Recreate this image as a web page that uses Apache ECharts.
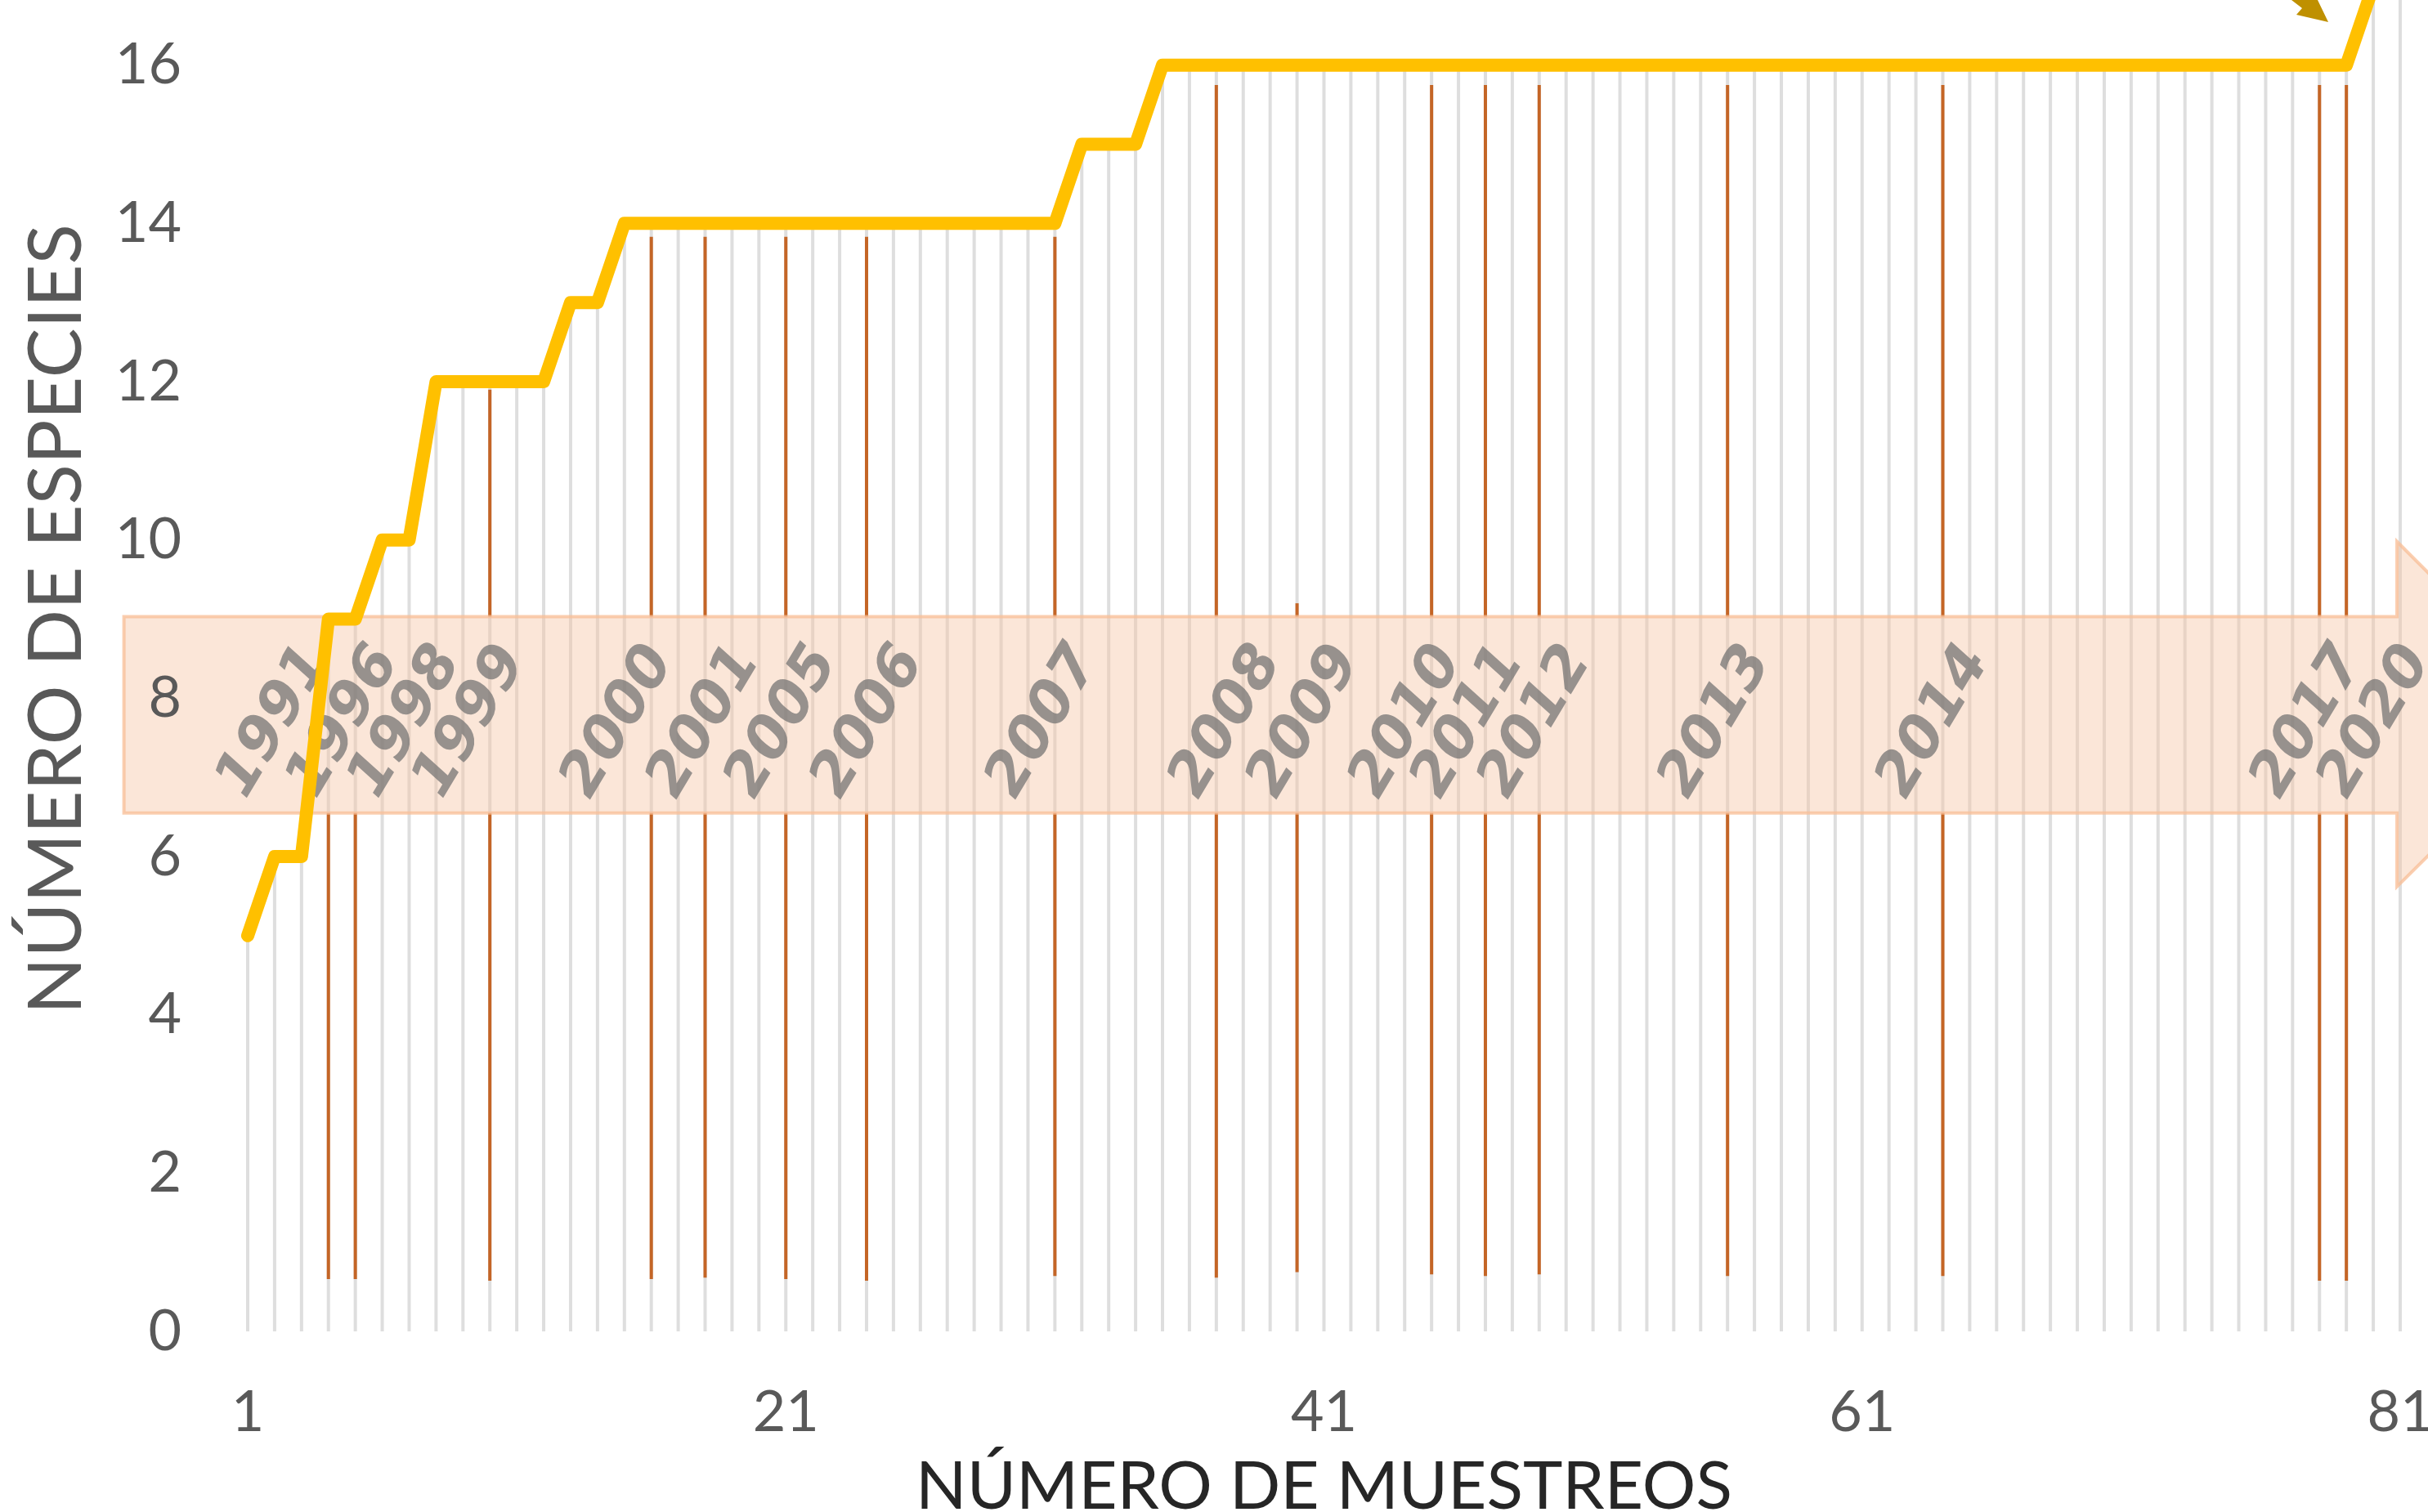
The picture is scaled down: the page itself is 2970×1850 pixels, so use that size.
<!DOCTYPE html>
<html>
<head>
<meta charset="utf-8">
<script src="https://cdn.jsdelivr.net/npm/echarts@6/dist/echarts.min.js"></script>
<style>
html, body { margin: 0; padding: 0; background: #fff; }
#chart { width: 2970px; height: 1850px; }
</style>
</head>
<body>
<div id="chart"></div>
<script>
// muestreos 1..81
var samples = [];
for (var i = 1; i <= 81; i++) {
    samples.push(String(i));
}

// numero acumulado de especies por muestreo
var species = [
    5, 6, 6, 9, 9, 10, 10, 12, 12, 12,
    12, 12, 13, 13, 14, 14, 14, 14, 14, 14,
    14, 14, 14, 14, 14, 14, 14, 14, 14, 14,
    14, 15, 15, 15, 16, 16, 16, 16, 16, 16,
    16, 16, 16, 16, 16, 16, 16, 16, 16, 16,
    16, 16, 16, 16, 16, 16, 16, 16, 16, 16,
    16, 16, 16, 16, 16, 16, 16, 16, 16, 16,
    16, 16, 16, 16, 16, 16, 16, 16, 16, 17,
    17
];

// lineas naranjas (cambio de año)
var eventSamples = [4, 5, 10, 16, 18, 21, 24, 31, 37, 40, 45, 47, 49, 56, 64, 78, 79];
var eventLow = [0.66, 0.66, 0.64, 0.66, 0.68, 0.66, 0.64, 0.70, 0.68, 0.75, 0.72, 0.70, 0.72, 0.70, 0.70, 0.64, 0.64];
var eventHigh = [8.85, 8.85, 11.9, 13.83, 13.83, 13.83, 13.83, 13.83, 15.75, 9.2, 15.75, 15.75, 15.75, 15.75, 15.75, 15.75, 15.75];

// etiquetas de año sobre la flecha
var years = ['1991', '1996', '1998', '1999', '2000', '2001', '2005', '2006', '2007', '2008', '2009', '2010', '2011', '2012', '2013', '2014', '2017', '2020'];
var yearAt = [2.0, 4.6, 6.9, 9.3, 14.8, 18.0, 20.9, 24.1, 30.6, 37.4, 40.3, 44.1, 46.4, 48.9, 55.6, 63.7, 77.6, 80.1];
var yearLevel = 7.7;

// flecha (en unidades de los ejes)
var bandLow = 6.55, bandHigh = 9.03;
var headLow = 5.62, headHigh = 9.98;
var arrowStart = -3.6, headStart = 80.88, arrowTip = 87.3;

var yTicks = [0, 2, 4, 6, 8, 10, 12, 14, 16];

function byEvent(fn) {
    var out = samples.map(function () { return '-'; });
    for (var i = 0; i < eventSamples.length; i++) {
        out[eventSamples[i] - 1] = fn(i);
    }
    return out;
}

var orangeBase = byEvent(function (i) { return eventLow[i]; });
var orangeLower = byEvent(function (i) { return Math.min(eventHigh[i], bandLow) - eventLow[i]; });
var orangeGap = byEvent(function (i) { return eventHigh[i] > bandHigh ? bandHigh - bandLow : 0; });
var orangeUpper = byEvent(function (i) { return eventHigh[i] > bandHigh ? eventHigh[i] - bandHigh : 0; });

var labelData = [];
for (var i = 0; i < years.length; i++) {
    labelData.push([yearAt[i], yearLevel, years[i]]);
}

var ORANGE = '#c46526';
var FONT = 'Lato';

var option = {
    animation: false,
    backgroundColor: '#ffffff',
    grid: { left: 303, right: 34, top: -114, bottom: 221, containLabel: false, outerBoundsMode: 'none' },
    xAxis: [
        {
            type: 'category',
            data: samples,
            boundaryGap: false,
            name: 'NÚMERO DE MUESTREOS',
            nameLocation: 'middle',
            nameGap: 150,
            nameTextStyle: { fontFamily: FONT, fontSize: 82, color: '#262626' },
            axisLine: { show: false },
            axisTick: { show: false },
            splitLine: { show: false },
            axisLabel: {
                interval: 19,
                margin: 64,
                fontFamily: FONT,
                fontSize: 70,
                color: '#595959',
                showMaxLabel: true
            }
        },
        {
            type: 'value',
            min: 1,
            max: 81,
            show: false
        }
    ],
    yAxis: {
        type: 'value',
        min: 0,
        max: 18,
        interval: 2,
        z: 10,
        name: 'NÚMERO DE ESPECIES',
        nameLocation: 'middle',
        nameGap: 188,
        nameTextStyle: { fontFamily: FONT, fontSize: 91, color: '#595959' },
        axisLine: { show: false },
        axisTick: { show: false },
        splitLine: { show: false },
        axisLabel: {
            margin: 81,
            fontFamily: FONT,
            fontSize: 70,
            color: '#595959',
            formatter: function (v) { return yTicks.indexOf(v) >= 0 ? String(v) : ''; }
        }
    },
    series: [
        {
            name: 'muestreos',
            type: 'bar',
            data: species,
            barWidth: 4,
            barGap: '-100%',
            itemStyle: { color: '#dedede' },
            z: 1
        },
        {
            type: 'bar', stack: 'year', data: orangeBase, barWidth: 4, barGap: '-100%',
            itemStyle: { color: 'rgba(0,0,0,0)' }, z: 2
        },
        {
            type: 'bar', stack: 'year', data: orangeLower, barWidth: 4, barGap: '-100%',
            itemStyle: { color: ORANGE }, z: 2
        },
        {
            type: 'bar', stack: 'year', data: orangeGap, barWidth: 4, barGap: '-100%',
            itemStyle: { color: 'rgba(0,0,0,0)' }, z: 2
        },
        {
            type: 'bar', stack: 'year', data: orangeUpper, barWidth: 4, barGap: '-100%',
            itemStyle: { color: ORANGE }, z: 2
        },
        {
            type: 'custom',
            xAxisIndex: 1,
            data: [[0, 0]],
            clip: false,
            z: 3,
            renderItem: function (params, api) {
                var pts = [
                    [arrowStart, bandHigh], [headStart, bandHigh], [headStart, headHigh],
                    [arrowTip, (bandLow + bandHigh) / 2],
                    [headStart, headLow], [headStart, bandLow], [arrowStart, bandLow]
                ].map(function (p) { return api.coord(p); });
                return {
                    type: 'polygon',
                    shape: { points: pts },
                    style: {
                        fill: 'rgba(246,196,162,0.42)',
                        stroke: 'rgba(248,190,150,0.75)',
                        lineWidth: 4
                    }
                };
            }
        },
        {
            type: 'scatter',
            xAxisIndex: 1,
            data: labelData,
            symbolSize: 2,
            itemStyle: { color: 'rgba(0,0,0,0)' },
            z: 4,
            label: {
                show: true,
                position: 'inside',
                formatter: function (p) { return p.value[2]; },
                rotate: 59,
                fontFamily: 'DejaVu Sans',
                fontStyle: 'italic',
                fontWeight: 'bold',
                fontSize: 72,
                color: 'rgba(112,112,112,0.9)'
            }
        },
        {
            name: 'especies',
            type: 'line',
            data: species,
            symbol: 'none',
            z: 5,
            lineStyle: { color: '#ffc000', width: 16, cap: 'round', join: 'round' }
        }
    ],
    graphic: [
        {
            type: 'polygon',
            shape: { points: [[2803, 0], [2816, 10], [2809, 18], [2848, 27], [2835, 0]] },
            style: { fill: '#bf9000' }
        }
    ]
};

var chart = echarts.init(document.getElementById('chart'));
chart.setOption(option);
</script>
</body>
</html>
